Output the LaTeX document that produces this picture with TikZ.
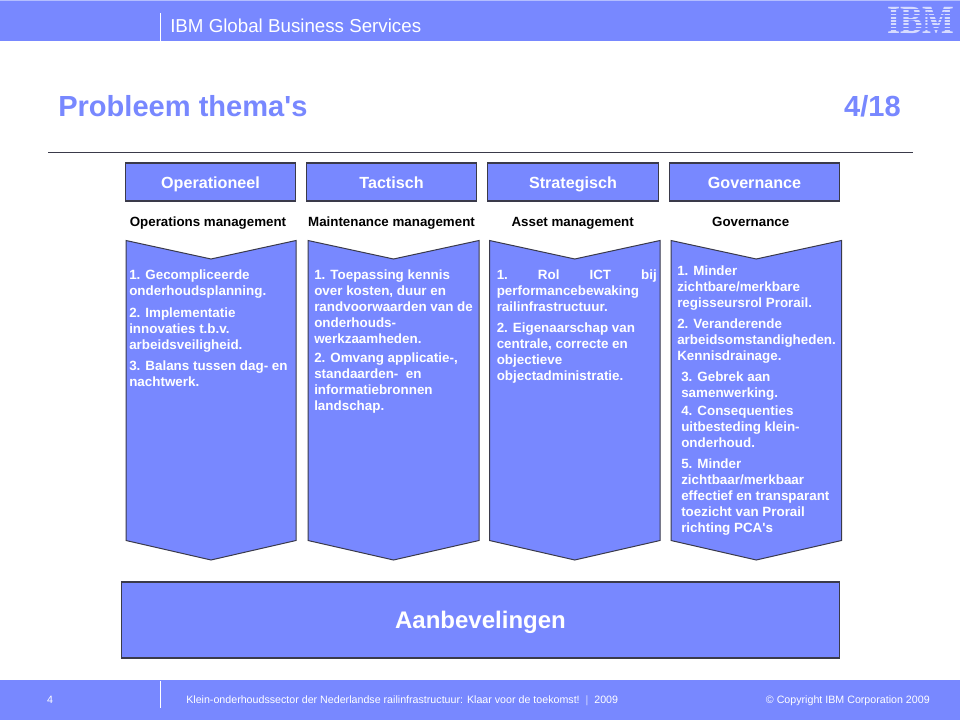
\documentclass[tikz,border=0pt]{standalone}
\usepackage{fontspec}
\setmainfont{Liberation Sans}
\newfontfamily\logofont{Liberation Serif}
\usetikzlibrary{calc,positioning}
\definecolor{ibmblue}{HTML}{7888FF}
\definecolor{ibmlight}{HTML}{B4BEFF}
\definecolor{edgegray}{HTML}{3A3A4A}
\tikzset{
  headbox/.style={draw=edgegray,fill=ibmblue,line width=0.85pt,minimum width=127.8pt,minimum height=28.5pt,
    inner sep=0pt,text=white,text height=9.4pt,text depth=0pt,font=\fontsize{12.1}{14}\bfseries\selectfont},
  sublabel/.style={inner sep=0pt,text height=7.2pt,text depth=2pt,font=\fontsize{10}{12}\bfseries\selectfont},
  panel/.style={draw=edgegray,fill=ibmblue,line width=0.75pt,line join=miter},
  paneltext/.style={anchor=north west,inner sep=0pt,align=left,text=white,
    font=\fontsize{10.05}{12}\bfseries\selectfont,execute at begin node=\strut},
  foottext/.style={inner sep=0pt,text=white,text height=5.8pt,text depth=1.6pt,font=\fontsize{8}{10}\selectfont},
}
\begin{document}
\begin{tikzpicture}[x=0.75pt,y=-0.75pt]
        \useasboundingbox (0,0) rectangle (960,720);
        % top and bottom bands
        \fill[ibmblue] (0,0) rectangle (960,41);
        \fill[ibmlight] (0,0) rectangle (960,1);
        \fill[ibmblue] (0,680) rectangle (960,720);
        \draw[white,line width=0.8pt] (160.5,13) -- (160.5,41);
        \draw[white,line width=0.8pt] (160.5,681) -- (160.5,708);
        \node[anchor=west,inner sep=0pt,text=white,font=\fontsize{14.05}{16}\selectfont] (band) at (170,26) {IBM Global Business Services};

        % striped logo
        \node[text=white!70!ibmblue,inner sep=0pt,font=\logofont\fontsize{30}{30}\bfseries\selectfont,transform shape,xscale=0.84] (logo) at (921,20) {IBM};
        \foreach \y in {9.5,12.8,16.1,19.4,22.7,26,29.3}
            \draw[ibmblue,line width=1.2pt] (885,\y) -- (957,\y);

        % title
        \node[anchor=west,inner sep=0pt,text=ibmblue,font=\fontsize{21.8}{26}\bfseries\selectfont] (title) at (58,106) {Probleem thema\textquotesingle s};
        \node[anchor=east,inner sep=0pt,text=ibmblue,font=\fontsize{21.8}{26}\bfseries\selectfont] (pagenr) at (901,106) {4/18};
        \draw[edgegray,line width=0.8pt] (48,152.5) -- (913,152.5);

        % column heads
        \foreach \x/\nm/\lab in {210.5/operationeel/Operationeel,391.5/tactisch/Tactisch,573/strategisch/Strategisch,754.5/governance/Governance}
            \node[headbox] (\nm) at (\x,182) {\lab};
        \node[sublabel] (opsub) at (208,223) {Operations management};
        \node[sublabel] (tacsub) at (391.5,223) {Maintenance management};
        \node[sublabel] (strsub) at (572.7,223) {Asset management};
        \node[sublabel] (govsub) at (750.7,223) {Governance};

        % chevron panels
        \foreach \l/\r in {126/296,308/479,489.5/660,671/841.5}
            \draw[panel] (\l,240.5) -- ({(\l+\r)/2},259) -- (\r,240.5) -- (\r,540.5) -- ({(\l+\r)/2},560) -- (\l,540.5) -- cycle;

        \node[paneltext] (opa) at (129,270) {1. Gecompliceerde\\onderhoudsplanning.};
        \node[paneltext] (opb) at (129,308) {2. Implementatie\\innovaties t.b.v.\\arbeidsveiligheid.};
        \node[paneltext] (opc) at (129,361) {3. Balans tussen dag- en\\nachtwerk.};

        \node[paneltext] (taa) at (314,270) {1. Toepassing kennis\\over kosten, duur en\\randvoorwaarden van de\\onderhouds-\\werkzaamheden.};
        \node[paneltext] (tab) at (314,353) {2. Omvang applicatie-,\\standaarden-\ \ en\\informatiebronnen\\landschap.};

        \node[paneltext] (sta) at (496.5,270) {\makebox[120pt][s]{1.\hfill Rol\hfill ICT\hfill bij}\\performancebewaking\\railinfrastructuur.};
        \node[paneltext] (stb) at (496.5,323) {2. Eigenaarschap van\\centrale, correcte en\\objectieve\\objectadministratie.};

        \node[paneltext] (goa) at (677,266) {1. Minder\\zichtbare/merkbare\\regisseursrol Prorail.};
        \node[paneltext] (gob) at (677,319) {2. Veranderende\\arbeidsomstandigheden.\\Kennisdrainage.};
        \node[paneltext] (goc) at (681,372) {3. Gebrek aan\\samenwerking.};
        \node[paneltext] (god) at (681,406) {4. Consequenties\\uitbesteding klein-\\onderhoud.};
        \node[paneltext] (goe) at (681,459) {5. Minder\\zichtbaar/merkbaar\\effectief en transparant\\toezicht van Prorail\\richting PCA\textquotesingle s};

        % bottom box
        \node[draw=edgegray,fill=ibmblue,line width=0.85pt,minimum width=539pt,minimum height=57pt,inner sep=0pt,
            text=white,text height=16.5pt,text depth=3.6pt,font=\fontsize{18}{20}\bfseries\selectfont] (aanbevelingen) at (480.5,620) {Aanbevelingen};

        % footer
        \node[foottext] (footnr) at (50,701) {4};
        \node[foottext,anchor=west] (foota) at (186,701) {Klein-onderhoudssector der Nederlandse railinfrastructuur: Klaar voor de toekomst!\ \ {\color{ibmlight!60!white}|}\ \ 2009};
        \node[foottext,anchor=east] (footb) at (930,701) {© Copyright IBM Corporation 2009};
\end{tikzpicture}
\end{document}
